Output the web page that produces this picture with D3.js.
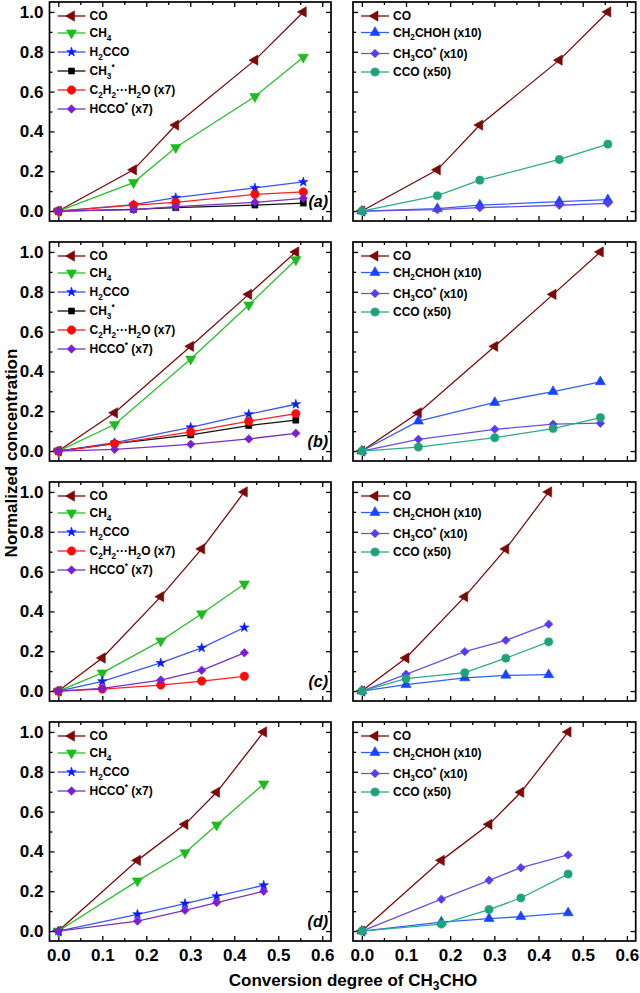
<!DOCTYPE html>
<html><head><meta charset="utf-8">
<script src="https://cdn.jsdelivr.net/npm/d3@7"></script>
<style>body{margin:0;background:#fff}svg{display:block;font-family:Arial,"Liberation Sans",sans-serif}</style>
</head><body><svg id="c" width="640" height="993"></svg>
<script>
// ---------- DATA ----------
const xTicks = [0, 0.1, 0.2, 0.3, 0.4, 0.5, 0.6];
const xTickLabels = ["0.0", "0.1", "0.2", "0.3", "0.4", "0.5", "0.6"];
const yTicks = [0, 0.2, 0.4, 0.6, 0.8, 1.0];
const yTickLabels = ["0.0", "0.2", "0.4", "0.6", "0.8", "1.0"];
const panelLabels = ["(a)", "(b)", "(c)", "(d)"];

// conversion degree (x) for each row
const xA = [0, 0.171, 0.267, 0.447, 0.557];
const xB = [0, 0.128, 0.301, 0.433, 0.540];
const xC = [0, 0.100, 0.233, 0.326, 0.423];
const xD = [0, 0.180, 0.288, 0.360, 0.467];

// row (a)
const coA = [0, 0.207, 0.432, 0.758, 1.0];
const ch4A = [0, 0.143, 0.319, 0.575, 0.773];
const h2ccoA = [0, 0.032, 0.067, 0.116, 0.146];
const ch3A = [0, 0.008, 0.017, 0.030, 0.040];
const c2h2A = [0, 0.030, 0.044, 0.084, 0.096];
const hccoA = [0, 0.007, 0.022, 0.044, 0.064];
const ch2chohA = [0, 0.012, 0.030, 0.047, 0.057];
const ch3coA = [0, 0.007, 0.017, 0.029, 0.039];
const ccoA = [0, 0.077, 0.155, 0.259, 0.336];

// row (b)
const coB = [0, 0.192, 0.526, 0.787, 1.0];
const ch4B = [0, 0.133, 0.462, 0.734, 0.961];
const h2ccoB = [0, 0.042, 0.119, 0.185, 0.235];
const ch3B = [0, 0.037, 0.081, 0.128, 0.155];
const c2h2B = [0, 0.037, 0.096, 0.150, 0.188];
const hccoB = [0, 0.008, 0.034, 0.061, 0.089];
const ch2chohB = [0, 0.150, 0.244, 0.299, 0.348];
const ch3coB = [0, 0.059, 0.109, 0.135, 0.140];
const ccoB = [0, 0.020, 0.067, 0.113, 0.168];

// row (c)
const coC = [0, 0.166, 0.474, 0.714, 1.0];
const ch4C = [0, 0.091, 0.252, 0.388, 0.538];
const h2ccoC = [0, 0.049, 0.141, 0.217, 0.319];
const c2h2C = [0, 0.010, 0.030, 0.050, 0.074];
const hccoC = [0, 0.013, 0.055, 0.104, 0.192];
const ch2chohC = [0, 0.032, 0.066, 0.079, 0.082];
const ch3coC = [0, 0.084, 0.198, 0.255, 0.336];
const ccoC = [0, 0.062, 0.092, 0.165, 0.247];

// row (d)
const coD = [0, 0.355, 0.536, 0.697, 1.0];
const ch4D = [0, 0.252, 0.393, 0.533, 0.739];
const h2ccoD = [0, 0.084, 0.138, 0.175, 0.230];
const hccoD = [0, 0.050, 0.104, 0.143, 0.200];
const ch2chohD = [0, 0.045, 0.062, 0.072, 0.091];
const ch3coD = [0, 0.160, 0.255, 0.318, 0.382];
const ccoD = [0, 0.035, 0.108, 0.166, 0.286];

// series labels (markup: _x subscript, ^x superscript)
const seriesLabels = {
  co: "CO", ch4: "CH_4", h2cco: "H_2CCO", ch3: "CH_3^*",
  c2h2: "C_2H_2···H_2O (x7)", hcco: "HCCO^* (x7)",
  ch2choh: "CH_2CHOH (x10)", ch3co: "CH_3CO^* (x10)", cco: "CCO (x50)"
};

const rows = [
  { x: xA, left: [["co", coA], ["ch4", ch4A], ["h2cco", h2ccoA], ["ch3", ch3A], ["c2h2", c2h2A], ["hcco", hccoA]],
    right: [["co", coA], ["ch2choh", ch2chohA], ["ch3co", ch3coA], ["cco", ccoA]] },
  { x: xB, left: [["co", coB], ["ch4", ch4B], ["h2cco", h2ccoB], ["ch3", ch3B], ["c2h2", c2h2B], ["hcco", hccoB]],
    right: [["co", coB], ["ch2choh", ch2chohB], ["ch3co", ch3coB], ["cco", ccoB]] },
  { x: xC, left: [["co", coC], ["ch4", ch4C], ["h2cco", h2ccoC], ["c2h2", c2h2C], ["hcco", hccoC]],
    right: [["co", coC], ["ch2choh", ch2chohC], ["ch3co", ch3coC], ["cco", ccoC]] },
  { x: xD, left: [["co", coD], ["ch4", ch4D], ["h2cco", h2ccoD], ["hcco", hccoD]],
    right: [["co", coD], ["ch2choh", ch2chohD], ["ch3co", ch3coD], ["cco", ccoD]] }
];

// ---------- STYLES ----------
const styles = {
  co:      { color: "#7a0a0a", line: "#7a0a0a", sym: d3.symbolTriangle, rot: -90, size: 46 },
  ch4:     { color: "#1fba1f", line: "#2cbf2c", sym: d3.symbolTriangle, rot: 180, size: 46 },
  h2cco:   { color: "#0a1ef0", line: "#3a55f5", sym: d3.symbolStar, rot: 0, size: 28 },
  ch3:     { color: "#000000", line: "#111111", sym: d3.symbolSquare, rot: 0, size: 36 },
  c2h2:    { color: "#ff0a0a", line: "#ff2020", sym: d3.symbolCircle, rot: 0, size: 56 },
  hcco:    { color: "#7a1ed6", line: "#7a30c0", sym: d3.symbolSquare, rot: 45, size: 36 },
  ch2choh: { color: "#1a45ff", line: "#3060f5", sym: d3.symbolTriangle, rot: 0, size: 44 },
  ch3co:   { color: "#5a3af0", line: "#6a50ea", sym: d3.symbolSquare, rot: 45, size: 36 },
  cco:     { color: "#1ea37a", line: "#2aac85", sym: d3.symbolCircle, rot: 0, size: 52 }
};

const svg = d3.select("#c");
const FONT = 'Arial, "Liberation Sans", sans-serif';
const tops = [2, 242, 482, 722];
const H = 219;
const leftRange = [49.5, 331];
const rightRange = [353, 635.7];
const xDomain = [-0.02, 0.62];
const yDomain = [-0.05, 1.05];
const legendRows = [14, 31, 50, 69, 88, 107];
const legendRowsRight = [14, 30.5, 51.5, 70];

function richText(sel, label, size) {
  const re = /(_.|\^.|[^_^]+)/g;
  let m; let shift = 0;
  while ((m = re.exec(label)) !== null) {
    const tok = m[0];
    if (tok[0] === "_") {
      sel.append("tspan").attr("font-size", size * 0.68).attr("dy", 3.5 - shift).text(tok[1]);
      shift = 3.5;
    } else if (tok[0] === "^") {
      sel.append("tspan").attr("font-size", size * 0.68).attr("dy", -5 - shift).text(tok[1]);
      shift = -5;
    } else {
      sel.append("tspan").attr("dy", -shift).text(tok);
      shift = 0;
    }
  }
}

function styleAxis(g, showLabels) {
  g.attr("font-family", FONT).attr("font-size", 17).attr("font-weight", "bold");
  g.select(".domain").remove();
  g.selectAll(".tick line").attr("stroke", "#000").attr("stroke-width", 1.3);
  if (!showLabels) g.selectAll(".tick text").remove();
  g.selectAll(".tick text").attr("fill", "#000");
}

rows.forEach((row, i) => {
  const top = tops[i];
  const y = d3.scaleLinear().domain(yDomain).range([top + H, top]);
  [["L", leftRange, row.left, legendRows], ["R", rightRange, row.right, legendRowsRight]].forEach(([side, xr, series, lrows]) => {
    const x = d3.scaleLinear().domain(xDomain).range(xr);
    const g = svg.append("g");
    const minorX = [0.05, 0.15, 0.25, 0.35, 0.45, 0.55];
    const minorY = [0.1, 0.3, 0.5, 0.7, 0.9];

    const isBottom = i === 3;
    const isLeft = side === "L";
    // bottom
    g.append("g").attr("transform", `translate(0,${top + H})`)
      .call(d3.axisBottom(x).tickValues(xTicks).tickSize(-5).tickPadding(8)
        .tickFormat((d, k) => xTickLabels[k]))
      .call(a => styleAxis(a, isBottom));
    g.append("g").attr("transform", `translate(0,${top + H})`)
      .call(d3.axisBottom(x).tickValues(minorX).tickSize(-3).tickFormat(""))
      .call(a => styleAxis(a, false));
    // top
    g.append("g").attr("transform", `translate(0,${top})`)
      .call(d3.axisTop(x).tickValues(xTicks).tickSize(-5).tickFormat(""))
      .call(a => styleAxis(a, false));
    g.append("g").attr("transform", `translate(0,${top})`)
      .call(d3.axisTop(x).tickValues(minorX).tickSize(-3).tickFormat(""))
      .call(a => styleAxis(a, false));
    // left
    g.append("g").attr("transform", `translate(${xr[0]},0)`)
      .call(d3.axisLeft(y).tickValues(yTicks).tickSize(-5).tickPadding(6)
        .tickFormat((d, k) => yTickLabels[k]))
      .call(a => styleAxis(a, isLeft));
    g.append("g").attr("transform", `translate(${xr[0]},0)`)
      .call(d3.axisLeft(y).tickValues(minorY).tickSize(-3).tickFormat(""))
      .call(a => styleAxis(a, false));
    // right
    g.append("g").attr("transform", `translate(${xr[1]},0)`)
      .call(d3.axisRight(y).tickValues(yTicks).tickSize(-5).tickFormat(""))
      .call(a => styleAxis(a, false));
    g.append("g").attr("transform", `translate(${xr[1]},0)`)
      .call(d3.axisRight(y).tickValues(minorY).tickSize(-3).tickFormat(""))
      .call(a => styleAxis(a, false));

    // frame
    g.append("rect").attr("x", xr[0]).attr("y", top)
      .attr("width", xr[1] - xr[0]).attr("height", H)
      .attr("fill", "none").attr("stroke", "#000").attr("stroke-width", 1.7);

    // series
    const line = d3.line().x(d => x(d[0])).y(d => y(d[1]));
    series.forEach(([key, vals]) => {
      const st = styles[key];
      const pts = vals.map((v, k) => [row.x[k], v]);
      g.append("path").attr("d", line(pts)).attr("fill", "none")
        .attr("stroke", st.line).attr("stroke-width", 1.3);
      g.selectAll(null).data(pts).enter().append("path")
        .attr("d", d3.symbol().type(st.sym).size(st.size))
        .attr("transform", d => `translate(${x(d[0])},${y(d[1])}) rotate(${st.rot})`)
        .attr("fill", st.color).attr("stroke", st.color).attr("stroke-width", 0.6);
    });

    // legend
    series.forEach(([key], k) => {
      const st = styles[key];
      const ly = top + lrows[k];
      const lx = xr[0];
      g.append("line").attr("x1", lx + 8).attr("x2", lx + 36).attr("y1", ly).attr("y2", ly)
        .attr("stroke", st.line).attr("stroke-width", 1.3);
      g.append("path").attr("d", d3.symbol().type(st.sym).size(st.size))
        .attr("transform", `translate(${lx + 22},${ly}) rotate(${st.rot})`)
        .attr("fill", st.color).attr("stroke", st.color).attr("stroke-width", 0.6);
      const t = g.append("text").attr("x", lx + 40).attr("y", ly + 4.3)
        .attr("font-family", FONT).attr("font-size", 12).attr("font-weight", "bold").attr("fill", "#000");
      richText(t, seriesLabels[key], 12);
    });

    if (isLeft) {
      g.append("text").attr("x", xr[1] - 3).attr("y", top + 205)
        .attr("text-anchor", "end").attr("font-family", FONT).attr("font-size", 16)
        .attr("font-weight", "bold").attr("font-style", "italic").text(panelLabels[i]);
    }
  });
});

// axis titles
const xt = svg.append("text").attr("x", 353).attr("y", 986).attr("text-anchor", "middle")
  .attr("font-family", FONT).attr("font-size", 17).attr("font-weight", "bold");
xt.append("tspan").text("Conversion degree of CH");
xt.append("tspan").attr("font-size", 12).attr("dy", 4).text("3");
xt.append("tspan").attr("dy", -4).text("CHO");

svg.append("text").attr("transform", "translate(17,453) rotate(-90)").attr("text-anchor", "middle")
  .attr("font-family", FONT).attr("font-size", 17).attr("font-weight", "bold")
  .text("Normalized concentration");
</script></body></html>
